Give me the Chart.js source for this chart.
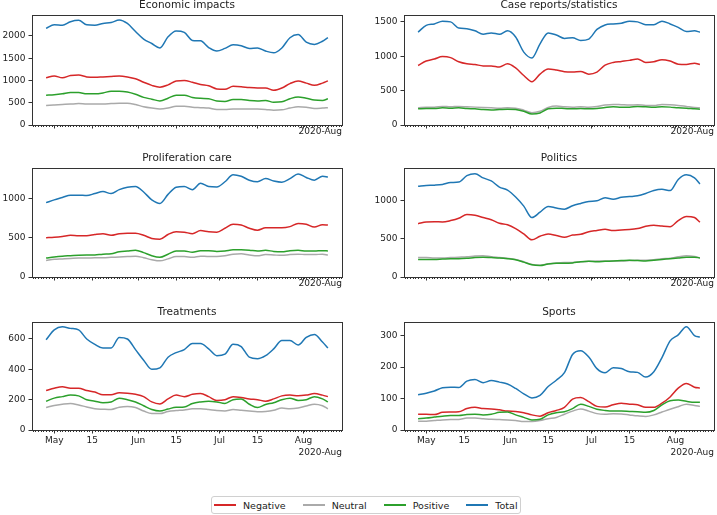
<!DOCTYPE html>
<html>
<head>
<meta charset="utf-8">
<script src="https://cdn.jsdelivr.net/npm/chart.js@4.4.1/dist/chart.umd.min.js"></script>
<style>
  body { margin: 0; background: #fff; width: 717px; height: 515px; position: relative; overflow: hidden; font-family: "DejaVu Sans", sans-serif; }
  canvas { position: absolute; }
  #legend { position: absolute; left: 211px; top: 496px; height: 16px; border: 1px solid #d0d0d0; border-radius: 3px;
            display: flex; align-items: center; padding: 0 2px 0 2px; font-size: 9.5px; color: #222; background: #fff; }
  #legend .sw { width: 22px; height: 1.5px; margin-right: 7px; }
  #legend .it { display: flex; align-items: center; margin-right: 17px; }
  #legend .it:last-child { margin-right: 0; }
</style>
</head>
<body>
<div id="legend"></div>
<script>
// sample dates (every 3 days)
const dates = ['2020-04-28','2020-05-01','2020-05-04','2020-05-07','2020-05-10','2020-05-13','2020-05-16','2020-05-19',
  '2020-05-22','2020-05-25','2020-05-28','2020-05-31','2020-06-03','2020-06-06','2020-06-09','2020-06-12','2020-06-15',
  '2020-06-18','2020-06-21','2020-06-24','2020-06-27','2020-06-30','2020-07-03','2020-07-06','2020-07-09','2020-07-12',
  '2020-07-15','2020-07-18','2020-07-21','2020-07-24','2020-07-27','2020-07-30','2020-08-02','2020-08-05','2020-08-08','2020-08-10'];
const majorDates = ['2020-05-01','2020-05-15','2020-06-01','2020-06-15','2020-07-01','2020-07-15','2020-08-01'];
const majorLabels = ['May','15','Jun','15','Jul','15','Aug'];
const offsetLabel = '2020-Aug';

const seriesNames = ['Negative','Neutral','Positive','Total'];
const seriesColors = ['#d62728','#aaaaaa','#2ca02c','#1f77b4'];

const econNeg = [1060,1100,1060,1110,1120,1080,1070,1080,1090,1100,1080,1040,960,890,850,900,990,1000,960,910,880,810,800,870,860,840,830,830,780,830,930,990,940,890,940,990];
const econNeu = [440,450,460,470,480,470,470,470,480,490,490,460,410,380,360,380,420,420,400,390,380,350,350,360,360,360,360,350,330,340,380,410,400,370,380,390];
const econPos = [670,680,700,730,730,700,700,720,760,760,740,690,620,580,540,600,670,670,620,600,590,540,530,570,570,550,540,550,510,520,590,630,600,560,550,590];
const econTot = [2170,2250,2240,2320,2350,2250,2240,2280,2300,2360,2280,2100,1930,1830,1730,1980,2110,2080,1900,1890,1740,1660,1720,1800,1780,1720,1730,1660,1620,1730,1960,2030,1860,1810,1880,1960];

const caseNeg = [865,930,960,995,980,920,890,880,860,860,845,890,830,720,630,740,815,800,775,770,780,740,770,870,910,925,940,960,910,920,950,930,885,880,900,880];
const caseNeu = [250,260,260,270,265,270,265,260,255,250,245,250,245,215,180,200,255,275,265,260,265,260,270,290,300,295,290,295,285,285,300,295,285,270,255,250];
const casePos = [235,240,240,250,245,250,240,235,225,220,225,230,225,200,160,175,235,245,240,235,240,235,240,255,265,260,260,270,265,260,265,260,250,245,235,230];
const caseTot = [1350,1450,1470,1510,1500,1410,1400,1370,1320,1340,1320,1370,1280,1060,975,1180,1340,1310,1260,1270,1230,1250,1390,1455,1470,1480,1510,1500,1460,1460,1510,1470,1420,1360,1370,1350];

const prolNeg = [500,505,515,530,525,525,540,550,530,550,555,555,530,490,480,540,575,570,550,590,575,570,620,670,660,620,595,625,625,625,640,680,670,635,665,660];
const prolNeu = [210,225,230,235,240,240,245,245,250,255,260,265,245,220,205,230,260,260,250,265,260,260,270,290,295,280,270,285,280,275,285,290,285,285,290,280];
const prolPos = [240,255,265,270,275,278,280,290,295,320,330,340,310,270,250,290,330,330,315,335,335,325,330,345,345,340,330,340,325,320,335,340,330,330,335,330];
const prolTot = [945,980,1010,1040,1040,1035,1060,1085,1060,1110,1140,1150,1080,980,935,1050,1140,1150,1110,1190,1150,1145,1210,1300,1280,1230,1210,1250,1220,1205,1250,1310,1265,1230,1280,1270];

const polNeg = [700,720,725,722,740,770,820,810,780,750,705,685,635,565,488,535,565,545,520,550,560,595,610,625,610,618,622,635,665,680,668,660,740,795,780,720];
const polNeu = [255,255,250,250,255,260,265,275,280,265,255,245,230,200,165,155,175,185,190,190,200,205,210,210,210,210,215,220,220,225,240,245,265,280,270,250];
const polPos = [230,230,230,235,240,240,245,255,260,255,250,240,225,195,160,150,170,180,180,185,200,205,200,205,210,215,220,215,210,220,230,240,250,260,260,250];
const polTot = [1190,1200,1205,1215,1240,1245,1330,1355,1300,1260,1180,1140,1050,930,780,850,925,905,890,935,965,990,1000,1040,1020,1045,1055,1065,1095,1135,1150,1135,1280,1340,1300,1220];

const treatNeg = [260,275,285,275,275,260,250,232,232,245,242,235,220,185,172,205,230,220,235,240,220,195,200,220,215,205,200,190,205,225,230,225,230,240,230,220];
const treatNeu = [148,162,170,175,165,152,140,137,135,150,155,148,125,108,108,122,128,132,140,140,135,128,125,135,130,125,120,122,130,145,140,145,158,170,160,140];
const treatPos = [190,210,220,230,225,200,190,180,185,210,200,185,160,135,125,138,150,152,175,185,190,185,175,200,205,170,148,168,180,200,210,195,200,220,205,185];
const treatTot = [595,660,680,670,660,600,565,540,540,610,600,530,460,400,410,480,510,530,570,570,535,490,500,565,550,480,470,490,535,590,590,560,610,630,580,540];

const sportNeg = [50,50,49,56,57,58,68,72,68,67,64,60,59,55,48,44,55,62,72,98,103,90,75,73,80,85,82,80,72,72,85,105,133,148,136,133];
const sportNeu = [28,28,30,32,33,33,38,38,36,34,33,32,30,27,27,30,36,40,50,60,67,60,52,50,52,51,48,45,43,48,57,66,74,82,78,75];
const sportPos = [36,38,41,44,46,46,49,50,48,50,56,57,48,40,32,34,48,55,58,68,82,75,66,62,60,60,59,58,56,62,80,93,95,91,88,88];
const sportTot = [112,117,124,134,136,135,155,160,150,157,152,146,132,115,102,110,138,158,182,240,252,232,195,182,198,195,185,183,168,185,230,283,302,328,300,295];

// y tick labels per panel
const econTicks = [0, 500, 1000, 1500, 2000];
const caseTicks = [0, 500, 1000, 1500];
const prolTicks = [0, 500, 1000];
const polTicks = [0, 500, 1000];
const treatTicks = [0, 200, 400, 600];
const sportTicks = [0, 100, 200, 300];

const panels = [
  { title: 'Economic impacts',        series: [econNeg, econNeu, econPos, econTot],     yMax: 2470, ticks: econTicks },
  { title: 'Case reports/statistics', series: [caseNeg, caseNeu, casePos, caseTot],     yMax: 1600, ticks: caseTicks },
  { title: 'Proliferation care',      series: [prolNeg, prolNeu, prolPos, prolTot],     yMax: 1385, ticks: prolTicks },
  { title: 'Politics',                series: [polNeg, polNeu, polPos, polTot],         yMax: 1430, ticks: polTicks },
  { title: 'Treatments',              series: [treatNeg, treatNeu, treatPos, treatTot], yMax: 712,  ticks: treatTicks },
  { title: 'Sports',                  series: [sportNeg, sportNeu, sportPos, sportTot], yMax: 343,  ticks: sportTicks }
];

const dayOf = s => (Date.parse(s) - Date.parse('2020-05-01')) / 86400000;
const days = dates.map(dayOf);
const majorDays = majorDates.map(dayOf);
const span = days[days.length - 1] - days[0];
const xMin = days[0] - 0.05 * span;
const xMax = days[days.length - 1] + 0.05 * span;

// grid geometry (canvases overlap a little so titles are not cut)
const cols = [{ left: 0, width: 358, yw: 32, pr: 16 }, { left: 358, width: 359, yw: 46, pr: 3 }];
const rows = [{ top: 0,   height: 150, pt: 15, xh: 25, gap: 7 },
              { top: 145, height: 150, pt: 23, xh: 18, gap: 7 },
              { top: 300, height: 170, pt: 22, xh: 40, gap: 23 }];

const decor = {
  id: 'decor',
  afterDraw(chart, args, opts) {
    const { ctx, chartArea: a, scales: { x } } = chart;
    ctx.save();
    ctx.strokeStyle = '#333';
    ctx.lineWidth = 1;
    ctx.beginPath();
    for (let d = Math.ceil(x.min); d <= x.max; d++) {
      const px = Math.round(x.getPixelForValue(d)) + 0.5;
      ctx.moveTo(px, a.bottom);
      ctx.lineTo(px, a.bottom + 2);
    }
    ctx.stroke();
    ctx.strokeRect(Math.round(a.left) + 0.5, Math.round(a.top) + 0.5,
                   Math.round(a.right - a.left), Math.round(a.bottom - a.top));
    ctx.fillStyle = '#222';
    ctx.font = '10.5px "DejaVu Sans"';
    ctx.textAlign = 'center';
    ctx.textBaseline = 'middle';
    ctx.fillText(opts.title, (a.left + a.right) / 2, a.top - 9.5);
    ctx.font = '9px "DejaVu Sans"';
    ctx.textAlign = 'right';
    ctx.fillText(offsetLabel, a.right, a.bottom + opts.gap);
    ctx.restore();
  }
};

panels.forEach((p, i) => {
  const col = cols[i % 2], row = rows[Math.floor(i / 2)];
  const bottomRow = Math.floor(i / 2) === rows.length - 1;
  const cv = document.createElement('canvas');
  cv.width = col.width; cv.height = row.height;
  cv.style.left = col.left + 'px'; cv.style.top = row.top + 'px';
  document.body.appendChild(cv);

  new Chart(cv.getContext('2d'), {
    type: 'line',
    data: {
      datasets: p.series.map((vals, k) => ({
        label: seriesNames[k],
        data: vals.map((v, j) => ({ x: days[j], y: v })),
        borderColor: seriesColors[k],
        backgroundColor: seriesColors[k],
        borderWidth: 1.5,
        pointRadius: 0,
        cubicInterpolationMode: 'monotone',
        order: 3 - k
      }))
    },
    options: {
      responsive: false,
      maintainAspectRatio: false,
      animation: false,
      devicePixelRatio: 1,
      layout: { padding: { top: row.pt, left: 0, right: col.pr, bottom: 0 } },
      scales: {
        x: {
          type: 'linear',
          min: xMin,
          max: xMax,
          afterFit: s => { s.height = row.xh; },
          afterBuildTicks: s => { s.ticks = majorDays.map(v => ({ value: v })); },
          border: { display: false },
          grid: { drawOnChartArea: false, drawTicks: true, tickLength: 3.5, color: '#333' },
          ticks: {
            display: bottomRow,
            autoSkip: false,
            maxRotation: 0,
            padding: 2,
            color: '#222',
            font: { family: 'DejaVu Sans', size: 9 },
            callback: v => majorLabels[majorDays.indexOf(v)]
          }
        },
        y: {
          min: 0,
          max: p.yMax,
          afterFit: s => { s.width = col.yw; },
          afterBuildTicks: s => { s.ticks = p.ticks.map(v => ({ value: v })); },
          border: { display: false },
          grid: { drawOnChartArea: false, drawTicks: true, tickLength: 3.5, color: '#333' },
          ticks: {
            autoSkip: false,
            padding: 3,
            color: '#222',
            font: { family: 'DejaVu Sans', size: 9 },
            callback: v => String(v)
          }
        }
      },
      plugins: {
        legend: { display: false },
        tooltip: { enabled: false },
        decor: { title: p.title, gap: row.gap }
      }
    },
    plugins: [decor]
  });
});

// shared legend
const lg = document.getElementById('legend');
seriesNames.forEach((n, k) => {
  const it = document.createElement('div');
  it.className = 'it';
  it.innerHTML = '<div class="sw" style="background:' + seriesColors[k] + '"></div><span>' + n + '</span>';
  lg.appendChild(it);
});
</script>
</body>
</html>
